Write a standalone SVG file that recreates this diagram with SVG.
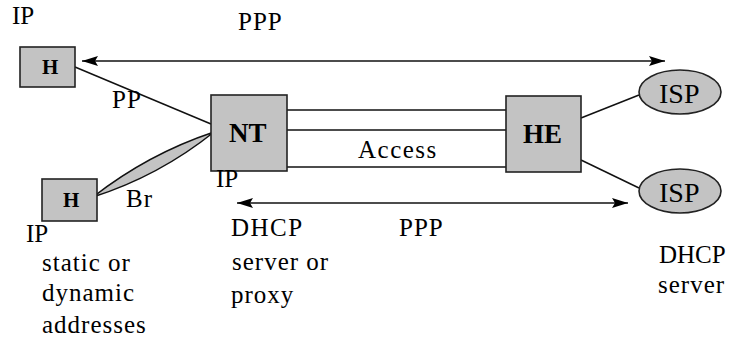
<svg xmlns="http://www.w3.org/2000/svg" width="734" height="344" viewBox="0 0 734 344">
  <defs>
    <marker id="tip-end" viewBox="0 0 16 10" refX="16" refY="5" markerWidth="16" markerHeight="10" markerUnits="userSpaceOnUse" orient="auto">
      <path d="M0,0 L16,5 L0,10 L3,5 Z" fill="#000"/>
    </marker>
    <marker id="tip-start" viewBox="0 0 16 10" refX="0" refY="5" markerWidth="16" markerHeight="10" markerUnits="userSpaceOnUse" orient="auto">
      <path d="M16,0 L0,5 L16,10 L13,5 Z" fill="#000"/>
    </marker>
  </defs>

  <rect width="734" height="344" fill="#fff"/>

  <!-- connectors: PPP spans, host links, access lines, ISP links -->
  <g id="connectors" fill="none" stroke="#111" stroke-width="1.5">
    <line x1="82" y1="61" x2="665" y2="61" marker-start="url(#tip-start)" marker-end="url(#tip-end)"/>
    <line x1="237" y1="203" x2="628" y2="203" marker-start="url(#tip-start)" marker-end="url(#tip-end)"/>
    <line x1="75" y1="67" x2="211" y2="124"/>
    <path d="M93,197 Q148,154 214,132 Q159,176 93,197 Z" fill="#c3c3c3"/>
    <line x1="287" y1="110" x2="506" y2="110"/>
    <line x1="287" y1="130" x2="506" y2="130"/>
    <line x1="287" y1="167" x2="506" y2="167"/>
    <line x1="581" y1="118" x2="639" y2="95"/>
    <line x1="581" y1="160" x2="639" y2="188"/>
  </g>

  <!-- nodes share the grey fill and dark border -->
  <g id="nodes" fill="#c3c3c3" stroke="#222" stroke-width="1.6">
    <g id="host-top">
      <rect x="20" y="47" width="55" height="40"/>
      <text x="42" y="74" style="font-family:'Liberation Serif',serif;font-weight:bold;font-size:21px;fill:#000;stroke:none">H</text>
    </g>
    <g id="host-bottom">
      <rect x="42" y="179" width="55" height="42"/>
      <text x="63" y="207" style="font-family:'Liberation Serif',serif;font-weight:bold;font-size:21px;fill:#000;stroke:none">H</text>
    </g>
    <g id="nt">
      <rect x="211" y="95" width="76" height="76"/>
      <text x="229" y="142" style="font-family:'Liberation Serif',serif;font-weight:bold;font-size:27px;fill:#000;stroke:none">NT</text>
    </g>
    <g id="he">
      <rect x="506" y="96" width="75" height="76"/>
      <text x="523" y="143" style="font-family:'Liberation Serif',serif;font-weight:bold;font-size:27px;fill:#000;stroke:none">HE</text>
    </g>
    <g id="isp-top">
      <ellipse cx="680" cy="92" rx="41" ry="22"/>
      <text x="659" y="103" style="font-family:'Liberation Serif',serif;font-size:28px;fill:#000;stroke:none">ISP</text>
    </g>
    <g id="isp-bottom">
      <ellipse cx="680" cy="191" rx="41" ry="22"/>
      <text x="659" y="202" style="font-family:'Liberation Serif',serif;font-size:28px;fill:#000;stroke:none">ISP</text>
    </g>
  </g>

  <!-- free-standing labels -->
  <g id="labels">
    <text x="12" y="24" style="font-family:'Liberation Serif',serif;font-size:25px">IP</text>
    <text x="238" y="30" style="font-family:'Liberation Serif',serif;font-size:25px;letter-spacing:1px">PPP</text>
    <text x="112" y="108" style="font-family:'Liberation Serif',serif;font-size:25px;letter-spacing:1px">PP</text>
    <text x="358" y="158" style="font-family:'Liberation Serif',serif;font-size:25px;letter-spacing:1.5px">Access</text>
    <text x="216" y="187" style="font-family:'Liberation Serif',serif;font-size:25px">IP</text>
    <text x="126" y="207" style="font-family:'Liberation Serif',serif;font-size:25px;letter-spacing:1px">Br</text>
    <text x="26" y="242" style="font-family:'Liberation Serif',serif;font-size:25px">IP</text>
    <text x="42" y="271" style="font-family:'Liberation Serif',serif;font-size:25px;letter-spacing:1px">static or</text>
    <text x="42" y="301" style="font-family:'Liberation Serif',serif;font-size:25px;letter-spacing:1px">dynamic</text>
    <text x="42" y="333" style="font-family:'Liberation Serif',serif;font-size:25px;letter-spacing:1px">addresses</text>
    <text x="231" y="236" style="font-family:'Liberation Serif',serif;font-size:25px;letter-spacing:1.5px">DHCP</text>
    <text x="232" y="270" style="font-family:'Liberation Serif',serif;font-size:25px;letter-spacing:1px">server or</text>
    <text x="231" y="303" style="font-family:'Liberation Serif',serif;font-size:25px;letter-spacing:1px">proxy</text>
    <text x="399" y="236" style="font-family:'Liberation Serif',serif;font-size:25px;letter-spacing:1px">PPP</text>
    <text x="659" y="263" style="font-family:'Liberation Serif',serif;font-size:25px">DHCP</text>
    <text x="658" y="293" style="font-family:'Liberation Serif',serif;font-size:25px;letter-spacing:1px">server</text>
  </g>
</svg>
